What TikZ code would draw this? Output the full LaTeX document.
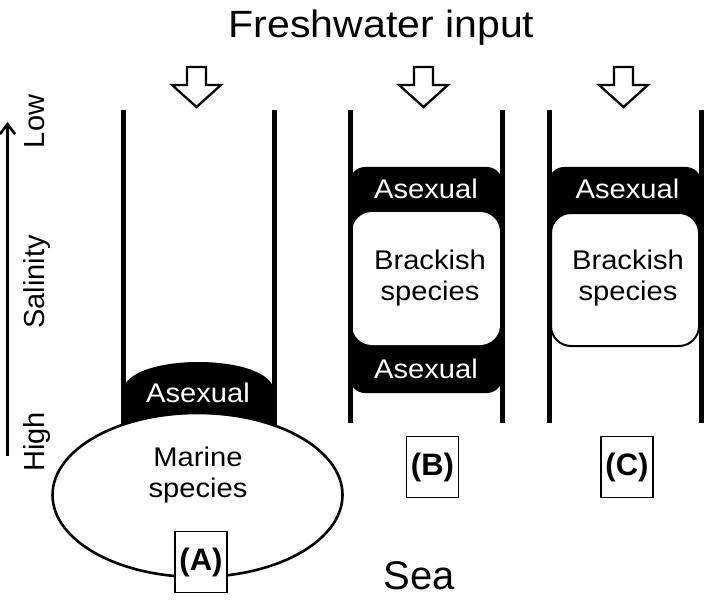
\documentclass[tikz,border=0pt]{standalone}
\usepackage{fontspec}
\setmainfont{Liberation Sans}
\usetikzlibrary{positioning, arrows.meta, calc, shapes.geometric}
\tikzset{every node/.style={font=\fontsize{27}{31}\selectfont, inner sep=0pt}}

\begin{document}
\begin{tikzpicture}[
            x=1pt, y=-1pt,
            wall/.style={line width=5pt},
            label text/.style={xscale=1.08, align=center},
            asex/.style={label text, text=white, anchor=base},
            side text/.style={rotate=90, anchor=base, font=\fontsize{29}{31}\selectfont},
            blackblock/.style={fill=black, rounded corners=15pt},
            brackbox/.style={fill=white, rounded corners=20pt, minimum width=148pt, minimum height=133pt},
            tag/.style={draw, line width=1.2pt, fill=white, minimum width=52pt, minimum height=61pt,
                font=\fontsize{31}{33}\selectfont\bfseries},
            inflow/.style={draw, line width=2.3pt, fill=white, line join=miter},
        ]
        \useasboundingbox (0,0) rectangle (709,604);

        \node[anchor=base, xscale=1.08, font=\fontsize{38}{40}\selectfont] (fresh) at (381.5,38) {Freshwater input};
        \node[anchor=base, font=\fontsize{40}{42}\selectfont] (sea) at (419,589) {Sea};

        % inflow arrows
        \foreach \name/\x in {a/196.5, b/423.5, c/623.5} {
            \coordinate (tip \name) at (\x,107);
            \draw[inflow] (tip \name) -- ++(-24.5,-22) -- ++(15,0) -- ++(0,-18) -- ++(19,0)
                -- ++(0,18) -- ++(15,0) -- cycle;
        }

        % salinity axis
        \coordinate (sal high) at (7.5,456);
        \coordinate (sal low) at (7.5,122);
        \draw[line width=3pt, -{Straight Barb[length=10pt, width=15pt, line width=2.6pt]}] (sal high) -- (sal low);
        \node[side text] (low) at (44,121.5) {Low};
        \node[side text] (salinity) at (44,282) {Salinity};
        \node[side text] (high) at (44,442) {High};

        % (A)
        \fill (123,440) -- (123,392) .. controls (123,352) and (274,352) .. (274,392) -- (274,440) -- cycle;
        \draw[wall] (123,110) -- (123,440);
        \draw[wall] (274,110) -- (274,440);
        \node[draw, ellipse, line width=2.6pt, fill=white, minimum width=290pt, minimum height=164pt] (marine) at (197.5,495) {};
        \node[asex] (asex a) at (198,402) {Asexual};
        \node[label text] (marine text) at (198,475.5) {Marine\\species};
        \node[tag] (tag a) at (201,562) {(A)};

        % (B)
        \node[blackblock, minimum width=152pt, minimum height=226pt] (block b) at (426,280) {};
        \node[brackbox] (brack b) at (426,278.5) {};
        \node[asex] (asex b top) at (426,199) {Asexual};
        \node[asex] (asex b low) at (426,378) {Asexual};
        \node[label text] (brack b text) at (430,278) {Brackish\\species};
        \draw[wall] (350,110) -- (350,423);
        \draw[wall] (502,110) -- (502,423);
        \node[tag] (tag b) at (432.5,467) {(B)};

        % (C)
        \node[blackblock, minimum width=152pt, minimum height=83pt] (block c) at (625,208.5) {};
        \node[brackbox, draw, line width=2pt] (brack c) at (625,279.5) {};
        \node[asex] (asex c) at (627.5,199) {Asexual};
        \node[label text] (brack c text) at (628,278) {Brackish\\species};
        \draw[wall] (549,110) -- (549,423);
        \draw[wall] (701,110) -- (701,423);
        \node[tag] (tag c) at (627,467) {(C)};
        \end{tikzpicture}
\end{document}
